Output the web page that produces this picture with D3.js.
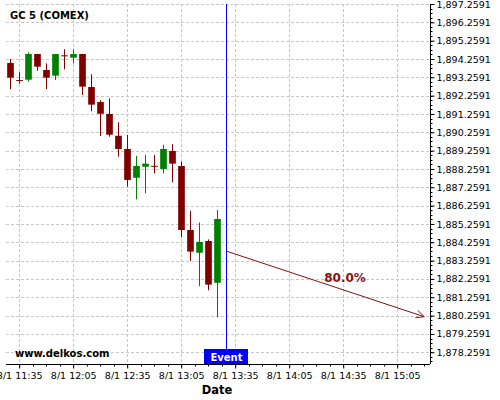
<!DOCTYPE html>
<html>
<head>
<meta charset="utf-8">
<script src="https://cdn.jsdelivr.net/npm/d3@7"></script>
<style>
  body { margin: 0; background: #fff; }
  svg { display: block; font-family: "DejaVu Sans", sans-serif; }
</style>
</head>
<body>
<div class="chart"></div>
<script>
// 5 minute candles, 8/1
const times  = ['11:30','11:35','11:40','11:45','11:50','11:55','12:00','12:05','12:10','12:15','12:20','12:25',
                '12:30','12:35','12:40','12:45','12:50','12:55','13:00','13:05','13:10','13:15','13:20','13:25']
const opens  = [1894.04,1893.11,1893.13,1894.53,1893.66,1893.35,1894.46,1894.33,1894.53,1892.73,1891.91,1891.26,
                1890.07,1889.35,1887.78,1888.38,1888.43,1888.26,1889.24,1888.42,1884.93,1883.69,1884.33,1882.05]
const highs  = [1894.26,1893.53,1894.62,1894.53,1894.02,1894.53,1894.79,1894.79,1894.53,1893.42,1892.01,1892.11,
                1890.81,1890.11,1888.97,1889.02,1889.02,1889.57,1889.61,1888.66,1885.98,1885.34,1884.42,1886.02]
const lows   = [1892.61,1892.91,1893.02,1893.62,1892.61,1893.11,1893.70,1894.02,1892.29,1891.41,1890.06,1890.02,
                1888.93,1887.29,1886.60,1886.93,1888.02,1888.02,1887.53,1884.53,1883.24,1881.86,1881.64,1880.17]
const closes = [1893.24,1893.09,1894.53,1893.84,1893.24,1894.53,1894.45,1894.53,1892.75,1891.77,1891.27,1890.13,
                1889.35,1887.66,1888.42,1888.55,1888.41,1889.35,1888.55,1884.93,1883.75,1884.28,1881.95,1885.53]

const yTicks = [1878.2591,1879.2591,1880.2591,1881.2591,1882.2591,1883.2591,1884.2591,1885.2591,1886.2591,1887.2591,
                1888.2591,1889.2591,1890.2591,1891.2591,1892.2591,1893.2591,1894.2591,1895.2591,1896.2591,1897.2591]
const xTicks = ['11:35','12:05','12:35','13:05','13:35','14:05','14:35','15:05']

const eventTime = '13:30'
const arrowTimes = ['13:30','15:20']
const arrowValues = [1883.78, 1880.20]
const arrowLabel = '80.0%'

const day = '2020-08-01'
const parseTime = d3.timeParse('%Y-%m-%d %H:%M:%S')
const t = s => parseTime(`${day} ${s.length === 5 ? s + ':00' : s}`)

class CandleChart {

    constructor() {
        this.fullWidth = 500
        this.fullHeight = 400
        this.left = 6
        this.right = 430
        this.top = 4
        this.bottom = 364
        this.red = '#800000'
        this.green = '#008000'
    }

    render() {
        this.svg = d3.select('.chart')
            .append('svg')
            .attr('width', this.fullWidth)
            .attr('height', this.fullHeight)
        this.createScales()
        this.createGrid()
        this.createCandles()
        this.createAxes()
        this.createEvent()
        this.createArrow()
        this.createTexts()
    }

    createScales() {
        this.x = d3.scaleTime()
            .domain([t('11:27:40'), t('15:23:13')])
            .range([this.left, this.right])
        this.y = d3.scaleLinear()
            .domain([1877.6189, 1897.2591])
            .range([this.bottom, this.top])
    }

    createGrid() {
        let g = this.svg.append('g')
            .attr('stroke', '#c8c8c8')
            .attr('stroke-dasharray', '3,2')
        g.selectAll('.hgrid').data(yTicks).join('line')
            .attr('x1', this.left).attr('x2', this.right)
            .attr('y1', d => Math.round(this.y(d)) + 0.5)
            .attr('y2', d => Math.round(this.y(d)) + 0.5)
        g.selectAll('.vgrid').data(xTicks).join('line')
            .attr('x1', d => Math.round(this.x(t(d))) + 0.5)
            .attr('x2', d => Math.round(this.x(t(d))) + 0.5)
            .attr('y1', this.top).attr('y2', this.bottom)
    }

    createCandles() {
        let candles = times.map((s, i) => ({
            date: t(s), open: opens[i], high: highs[i], low: lows[i], close: closes[i]
        }))
        let w = this.x(t('11:33:42')) - this.x(t('11:30'))
        let color = d => d.close > d.open ? this.green : this.red

        let g = this.svg.append('g')
        g.selectAll('.wick').data(candles).join('line')
            .attr('x1', d => Math.round(this.x(d.date)) + 0.5)
            .attr('x2', d => Math.round(this.x(d.date)) + 0.5)
            .attr('y1', d => this.y(d.high))
            .attr('y2', d => this.y(d.low))
            .attr('stroke', color)
            .attr('stroke-width', 1)
        g.selectAll('.body').data(candles).join('rect')
            .attr('x', d => Math.round(this.x(d.date)) + 0.5 - w / 2)
            .attr('y', d => this.y(Math.max(d.open, d.close)))
            .attr('width', w)
            .attr('height', d => Math.max(1, Math.abs(this.y(d.open) - this.y(d.close))))
            .attr('fill', color)
    }

    createAxes() {
        let fmt = d3.timeFormat('%-m/%-d %H:%M')
        let xAxis = d3.axisBottom(this.x)
            .tickValues(xTicks.map(t))
            .tickFormat(fmt)
            .tickSize(4)
            .tickPadding(4)
        let minorX = d3.range(-1, 33).map(i => new Date(t('11:35').getTime() + i * 7.5 * 60000))
            .filter(d => this.x(d) >= this.left && this.x(d) <= this.right)

        let gx = this.svg.append('g')
            .attr('transform', `translate(0, ${this.bottom + 0.5})`)
        gx.selectAll('.minor').data(minorX).join('line')
            .attr('x1', d => Math.round(this.x(d)) + 0.5)
            .attr('x2', d => Math.round(this.x(d)) + 0.5)
            .attr('y1', 0).attr('y2', 2)
            .attr('stroke', '#000')
        gx.call(xAxis)
        gx.select('.domain').attr('d', `M${this.left},0H${this.right}`)
        gx.selectAll('text').attr('font-size', 9.5).attr('font-family', 'DejaVu Sans').attr('fill', '#000')

        let yAxis = d3.axisRight(this.y)
            .tickValues(yTicks)
            .tickFormat(d3.format(',.4f'))
            .tickSize(4)
            .tickPadding(2)
        let minorY = d3.range(1877.7591, 1897.26, 0.25)

        let gy = this.svg.append('g')
            .attr('transform', `translate(${this.right + 0.5}, 0)`)
        gy.selectAll('.minor').data(minorY).join('line')
            .attr('y1', d => Math.round(this.y(d)) + 0.5)
            .attr('y2', d => Math.round(this.y(d)) + 0.5)
            .attr('x1', 0).attr('x2', 2)
            .attr('stroke', '#000')
        gy.call(yAxis)
        gy.select('.domain').attr('d', `M0,${this.top}V${this.bottom}`)
        gy.selectAll('text').attr('font-size', 9.5).attr('font-family', 'DejaVu Sans').attr('fill', '#000')
    }

    createEvent() {
        let ex = Math.round(this.x(t(eventTime))) + 0.5
        this.svg.append('line')
            .attr('x1', ex).attr('x2', ex)
            .attr('y1', this.top).attr('y2', 349)
            .attr('stroke', '#0000ff')
        this.svg.append('rect')
            .attr('x', ex - 22.5).attr('y', 349)
            .attr('width', 44).attr('height', 15)
            .attr('fill', '#0000ff')
        this.svg.append('text')
            .attr('x', ex).attr('y', 360.5)
            .attr('text-anchor', 'middle')
            .attr('font-size', 10).attr('font-weight', 'bold')
            .attr('fill', '#fff')
            .text('Event')
    }

    createArrow() {
        let x1 = this.x(t(arrowTimes[0])), y1 = this.y(arrowValues[0])
        let x2 = this.x(t(arrowTimes[1])), y2 = this.y(arrowValues[1])
        let col = '#8b1010'
        this.svg.append('line')
            .attr('x1', x1).attr('y1', y1).attr('x2', x2).attr('y2', y2)
            .attr('stroke', col).attr('stroke-width', 1)
        let a = Math.atan2(y2 - y1, x2 - x1), len = 9, spread = 0.45
        this.svg.append('path')
            .attr('d', `M${x2 - len * Math.cos(a - spread)},${y2 - len * Math.sin(a - spread)}L${x2},${y2}L${x2 - len * Math.cos(a + spread)},${y2 - len * Math.sin(a + spread)}`)
            .attr('fill', 'none').attr('stroke', col)
        let f = 0.6
        this.svg.append('text')
            .attr('x', x1 + (x2 - x1) * f)
            .attr('y', y1 + (y2 - y1) * f - 8)
            .attr('text-anchor', 'middle')
            .attr('font-size', 12).attr('font-weight', 'bold')
            .attr('fill', col)
            .text(arrowLabel)
    }

    createTexts() {
        this.svg.append('text')
            .attr('x', 10).attr('y', 19)
            .attr('font-size', 10).attr('font-weight', 'bold')
            .text('GC 5 (COMEX)')
        this.svg.append('text')
            .attr('x', 15).attr('y', 357)
            .attr('font-size', 10).attr('font-weight', 'bold')
            .text('www.delkos.com')
        this.svg.append('text')
            .attr('x', 217).attr('y', 394)
            .attr('text-anchor', 'middle')
            .attr('font-size', 11.5).attr('font-weight', 'bold')
            .text('Date')
    }
}

new CandleChart().render()
</script>
</body>
</html>
